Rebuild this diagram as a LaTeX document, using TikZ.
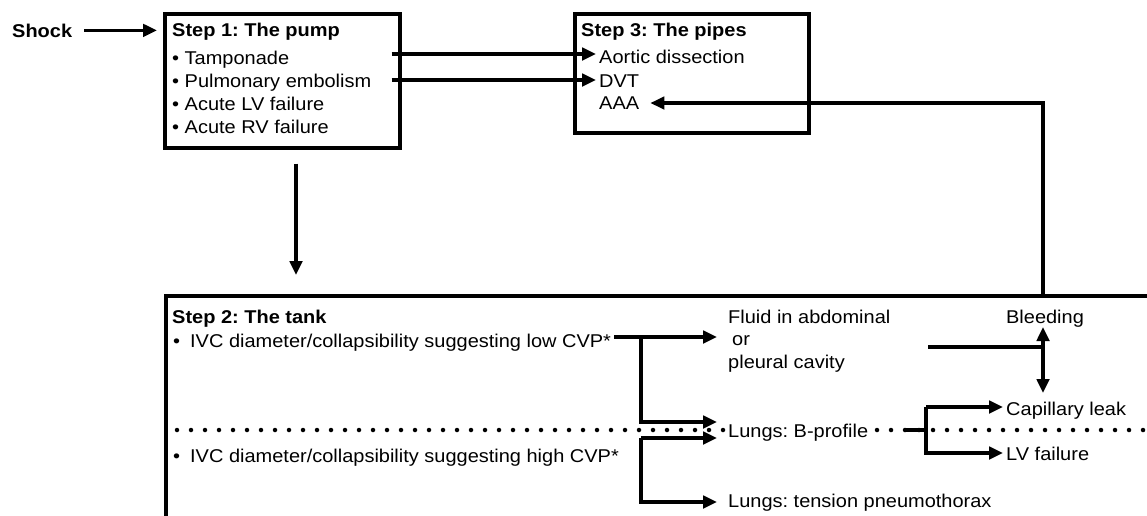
\documentclass[tikz,border=0pt]{standalone}
\usepackage{fontspec}
\setmainfont[FakeStretch=1.08]{Liberation Sans}
\usetikzlibrary{arrows.meta,calc}
\pgfdeclarelayer{bg}
\pgfsetlayers{bg,main}
\newcommand\fs{\fontsize{18.5}{23}\selectfont\frenchspacing}
\begin{document}
\begin{tikzpicture}[x=1pt,y=-1pt,
  txt/.style={inner sep=0pt, anchor=base west, font=\fs},
  ttl/.style={txt, font=\fs\bfseries},
  box/.style={draw, line width=3.6pt, anchor=north west, inner sep=0pt},
  conn/.style={line width=3.2pt},
  arr/.style={conn, -{Triangle[length=14pt,width=12.5pt]}},
  dbl/.style={conn, {Triangle[length=14pt,width=12.5pt]}-{Triangle[length=14pt,width=12.5pt]}},
  sep/.style={line width=4.5pt, line cap=round, dash pattern=on 0pt off 14pt}]
\useasboundingbox (0,0) rectangle (1147,515);
\clip (0,0) rectangle (1147,515);

% Step 1
\node[ttl] (shock) at (12,37) {Shock};
\node[box, minimum width=235pt, minimum height=134pt] (s1) at (163,12) {};
\node[ttl] (s1t) at (172,36) {Step 1: The pump};
\node[txt] (tamp) at (172,64) {• Tamponade};
\node[txt] (pulm) at (172,87) {• Pulmonary embolism};
\node[txt] (alv) at (172,110) {• Acute LV failure};
\node[txt] (arv) at (172,133) {• Acute RV failure};

% Step 3
\node[box, minimum width=234pt, minimum height=119pt] (s3) at (573,12) {};
\node[ttl] (s3t) at (581,36) {Step 3: The pipes};
\node[txt] (aortic) at (599,63) {Aortic dissection};
\node[txt] (dvt) at (599,87) {DVT};
\node[txt] (aaa) at (599,109) {AAA};

% Step 2
\node[box, minimum width=1000pt, minimum height=260pt] (s2) at (164,294) {};
\node[ttl] (s2t) at (172,323) {Step 2: The tank};
\node[txt] (low) at (173,347) {•\hspace{10pt}IVC diameter/collapsibility suggesting low CVP*};
\node[txt] (high) at (173,462) {•\hspace{10pt}IVC diameter/collapsibility suggesting high CVP*};
\node[txt] (fluid) at (728,323) {Fluid in abdominal};
\node[txt] (fluidor) at (732,345) {or};
\node[txt] (fluidpl) at (728,368) {pleural cavity};
\node[txt, fill=white, inner xsep=2pt, inner ysep=2pt] (bprof) at (726,437) {Lungs: B-profile};
\node[txt] (tension) at (728,507) {Lungs: tension pneumothorax};
\node[txt, anchor=base] (bleed) at (1045,323) {Bleeding};
\node[txt] (cap) at (1006,415) {Capillary leak};
\node[txt] (lvf) at (1006,460) {LV failure};

% helper coordinates
\coordinate (a1) at ($(aortic.base west)+(-3,-9)$);
\coordinate (a2) at ($(dvt.base west)+(-3,-7)$);
\coordinate (a3) at ($(aaa.base east)+(11,-6)$);
\coordinate (vx) at ($(bleed.base)+(-2,0)$);
\coordinate (dl) at ($(bprof.base)+(0,-7)$);
\coordinate (tFl) at ($(fluid.base west)+(-11,14)$);
\coordinate (tB) at ($(bprof.base west)+(-9,-15)$);
\coordinate (tH) at ($(bprof.base west)+(-9,1)$);
\coordinate (tT) at ($(tension.base west)+(-11,-5)$);
\coordinate (fx) at ($(tFl)+(-76,0)$);
\coordinate (l0) at ($(low.base east)+(3,-10)$);
\coordinate (p0) at ($(fluidpl.base west)+(200,-21)$);
\coordinate (bt) at ($(bleed.base)+(-2,4)$);
\coordinate (cb) at ($(cap.base west)+(0,-22)$);
\coordinate (tC) at ($(cap.base west)+(-3,-8)$);
\coordinate (tL) at ($(lvf.base west)+(-3,-7)$);
\coordinate (fk) at ($(tC)+(-77,0)$);

% dotted separator
\begin{pgfonlayer}{bg}
\draw[sep] ($(s2.west |- dl)+(13,0)$) -- (s2.east |- dl);
\end{pgfonlayer}

% connectors
\draw[arr] ([xshift=12pt]shock.east) -- ([xshift=-6pt]s1.west |- shock.east);
\draw[arr] ([xshift=-10pt]s1.east |- a1) -- (a1);
\draw[arr] ([xshift=-10pt]s1.east |- a2) -- (a2);
\draw[arr] ([yshift=-3pt]s2.north -| vx) |- (a3);
\draw[arr] ($(s1.south west)+(133,14)$) -- ($(s2.north west)+(132,-19)$);
\draw[arr] (l0) -- (tFl);
\draw[arr] (tFl -| fx) |- (tB);
\draw[arr] (tH -| fx) -- (tH);
\draw[arr] (tH -| fx) |- (tT);
\draw[conn] (p0) -- (p0 -| vx);
\draw[dbl] (bt) -- (bt |- cb);
\draw[conn] ($(fk |- dl)+(-22,0)$) -- (fk |- dl);
\draw[arr] (tC -| fk) -- (tC);
\draw[arr] (tC -| fk) |- (tL);
\end{tikzpicture}
\end{document}
